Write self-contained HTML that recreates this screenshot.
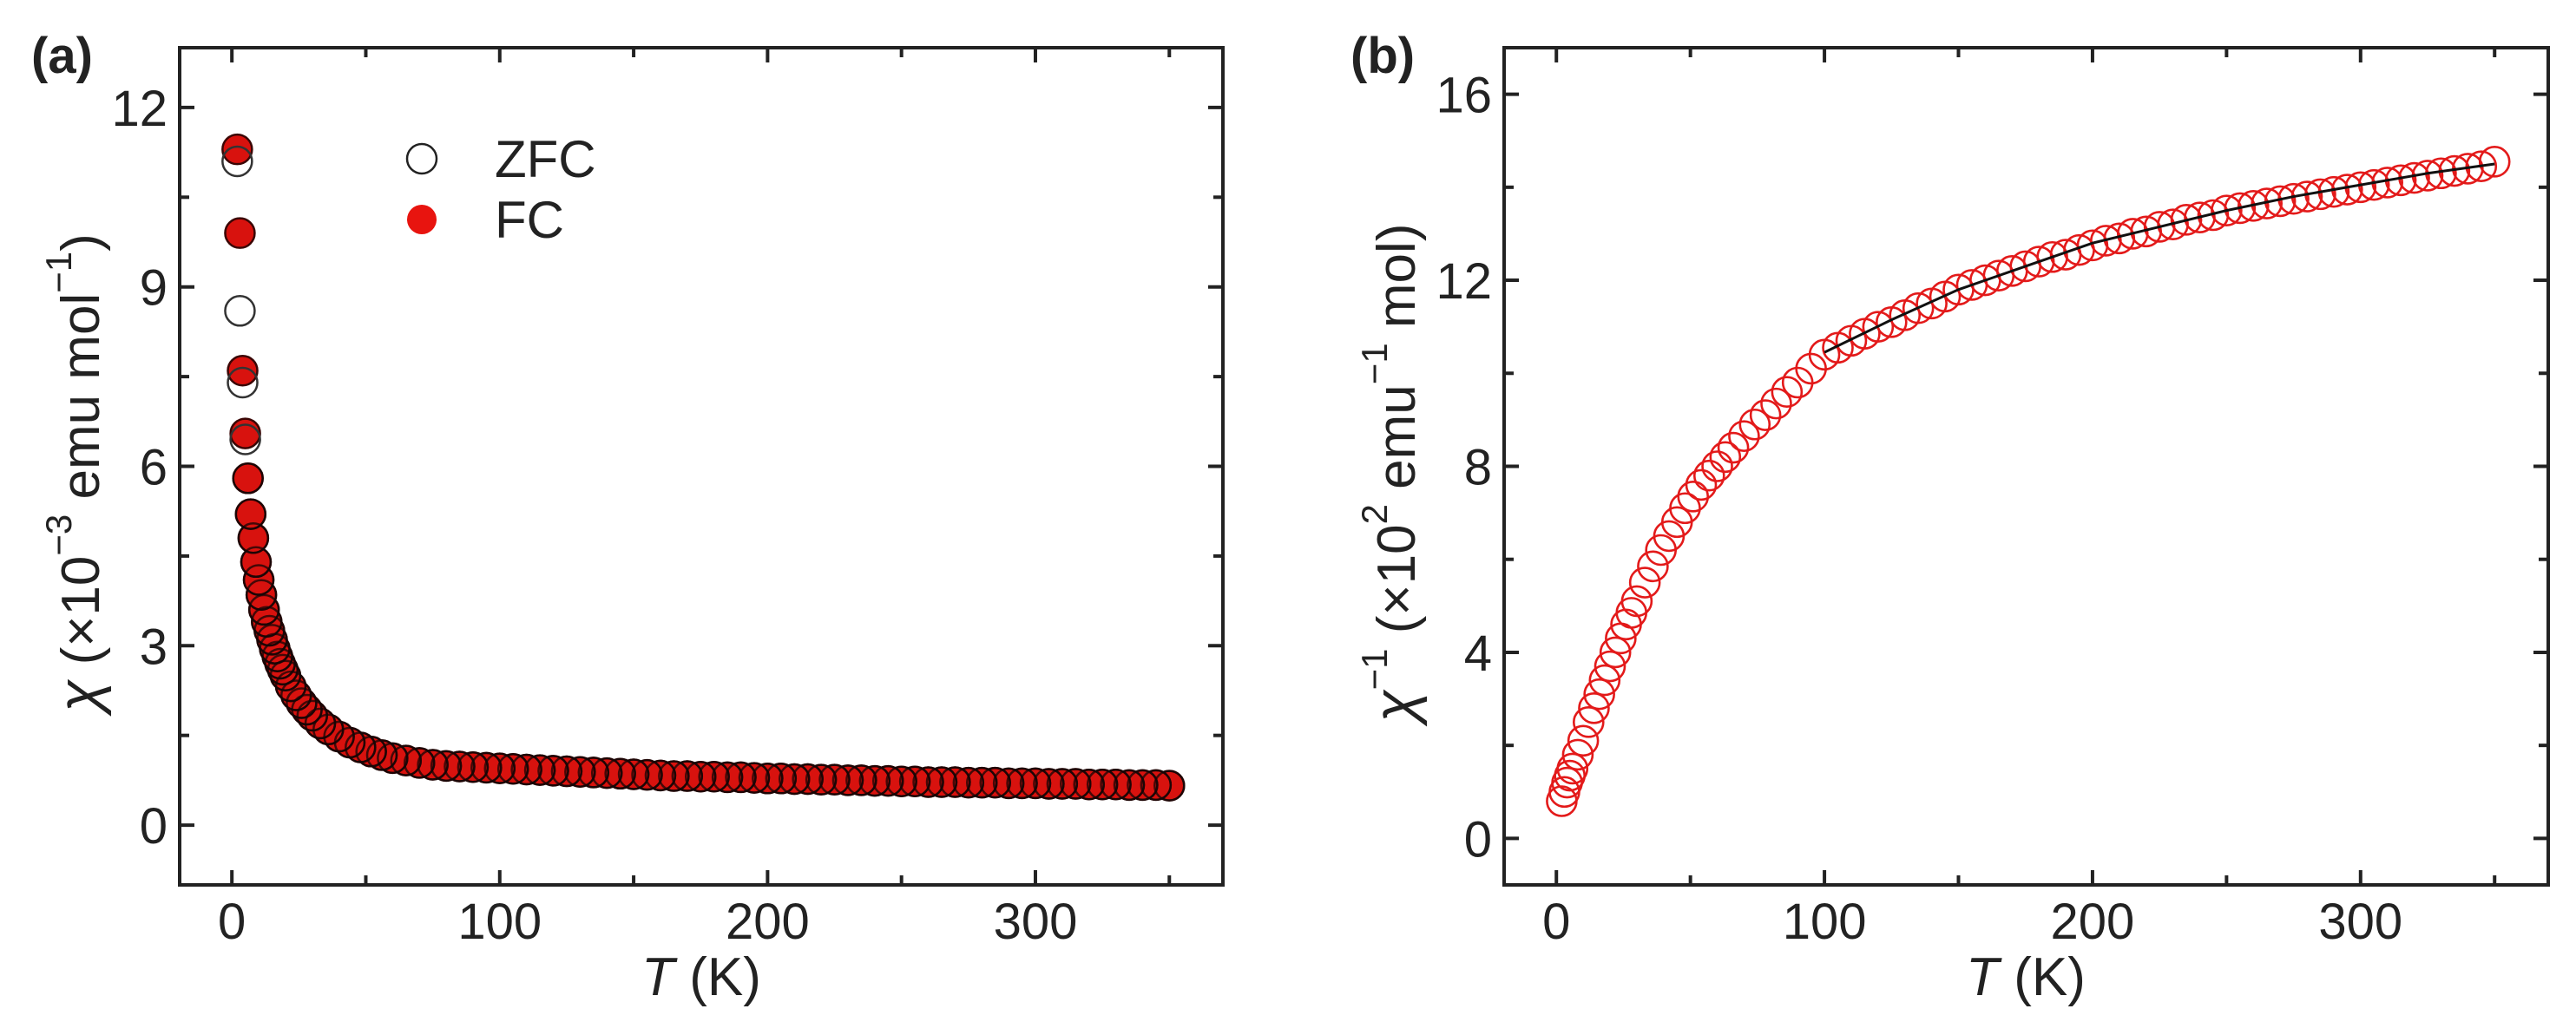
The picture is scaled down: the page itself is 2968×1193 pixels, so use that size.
<!DOCTYPE html>
<html><head><meta charset="utf-8"><style>
body{margin:0;background:#fff}
svg text{font-family:"Liberation Sans",sans-serif;fill:#222}
</style></head><body>
<svg id="fig" width="2968" height="1188" viewBox="0 0 2968 1188" xmlns="http://www.w3.org/2000/svg">
<g id="pa"></g>
<g id="pb"></g>
</svg>
<script>
const Ta=[2,3,4,5,6,7,8,9,10,11,12,13,14,15,16,17,18,19,20,22,24,26,28,30,33,36,40,44,48,52,56,60,65,70,75,80,85,90,95,100,105,110,115,120,125,130,135,140,145,150,155,160,165,170,175,180,185,190,195,200,205,210,215,220,225,230,235,240,245,250,255,260,265,270,275,280,285,290,295,300,305,310,315,320,325,330,335,340,345,350];
const FCa=[11.3,9.9,7.6,6.55,5.8,5.2,4.8,4.4,4.1,3.85,3.6,3.4,3.25,3.1,2.95,2.82,2.7,2.6,2.5,2.32,2.17,2.04,1.93,1.83,1.7,1.6,1.48,1.38,1.3,1.23,1.17,1.12,1.08,1.04,1.01,0.99,0.98,0.97,0.96,0.95,0.94,0.93,0.92,0.91,0.9,0.89,0.88,0.87,0.86,0.85,0.84,0.83,0.82,0.82,0.81,0.81,0.80,0.80,0.79,0.78,0.78,0.77,0.77,0.76,0.76,0.75,0.75,0.74,0.74,0.73,0.73,0.72,0.72,0.72,0.71,0.71,0.71,0.70,0.70,0.70,0.69,0.69,0.69,0.68,0.68,0.68,0.67,0.67,0.67,0.66];
const ZFCa=[11.1,8.6,7.4,6.45,5.8,5.2,4.8,4.4,4.1,3.85,3.6,3.4,3.25,3.1,2.95,2.82,2.7,2.6,2.5,2.32,2.17,2.04,1.93,1.83,1.7,1.6,1.48,1.38,1.3,1.23,1.17,1.12,1.08,1.04,1.01,0.99,0.98,0.97,0.96,0.95,0.94,0.93,0.92,0.91,0.9,0.89,0.88,0.87,0.86,0.85,0.84,0.83,0.82,0.82,0.81,0.81,0.80,0.80,0.79,0.78,0.78,0.77,0.77,0.76,0.76,0.75,0.75,0.74,0.74,0.73,0.73,0.72,0.72,0.72,0.71,0.71,0.71,0.70,0.70,0.70,0.69,0.69,0.69,0.68,0.68,0.68,0.67,0.67,0.67,0.66];
const Tb=[2,3,4,5,6,8,10,12,14,16,18,20,22,24,26,28,30,33,36,39,42,45,48,51,54,57,60,63,66,70,74,78,82,86,90,95,100,105,110,115,120,125,130,135,140,145,150,155,160,165,170,175,180,185,190,195,200,205,210,215,220,225,230,235,240,245,250,255,260,265,270,275,280,285,290,295,300,305,310,315,320,325,330,335,340,345,350];
const INVb=[0.8,1.0,1.2,1.35,1.5,1.8,2.1,2.5,2.8,3.1,3.4,3.7,4.0,4.3,4.6,4.85,5.1,5.5,5.85,6.2,6.5,6.8,7.1,7.35,7.6,7.8,8.0,8.2,8.4,8.65,8.9,9.1,9.35,9.6,9.8,10.1,10.4,10.55,10.7,10.85,11.0,11.1,11.25,11.4,11.5,11.65,11.8,11.9,12.0,12.1,12.2,12.3,12.4,12.5,12.55,12.65,12.75,12.85,12.9,13.0,13.05,13.15,13.2,13.3,13.35,13.4,13.5,13.55,13.6,13.65,13.7,13.75,13.8,13.85,13.9,13.95,14.0,14.05,14.1,14.15,14.2,14.25,14.3,14.35,14.4,14.45,14.55];
const fitT=[100,125,150,175,200,225,250,275,300,325,350];
const fitY=[10.45,11.15,11.8,12.3,12.8,13.15,13.5,13.8,14.05,14.3,14.5];
const xTicks=["0","100","200","300"];
const yTicksA=["0","3","6","9","12"];
const yTicksB=["0","4","8","12","16"];

const NS="http://www.w3.org/2000/svg";
function mk(parent,tag,attrs){const e=document.createElementNS(NS,tag);for(const k in attrs)e.setAttribute(k,attrs[k]);parent.appendChild(e);return e;}

function panel(g,L,R,xmin,xmax,ymin,ymax,yTicks,yStep,yMinor){
  const T=55,B=1020;
  const sx=v=>L+(v-xmin)/(xmax-xmin)*(R-L);
  const sy=v=>B-(v-ymin)/(ymax-ymin)*(B-T);
  const ax=mk(g,'g',{});
  
  
  for(let v=0;v<=350;v+=50){const x=sx(v);const len=v%100==0?17:11;
    mk(ax,'line',{x1:x,x2:x,y1:B,y2:B-len,stroke:'#222','stroke-width':4});
    mk(ax,'line',{x1:x,x2:x,y1:T,y2:T+len,stroke:'#222','stroke-width':4});}
  for(let v=0;v<=ymax;v+=yMinor){const y=sy(v);const maj=Math.abs(v/yStep-Math.round(v/yStep))<1e-6;const len=maj?17:11;
    mk(ax,'line',{x1:L,x2:L+len,y1:y,y2:y,stroke:'#222','stroke-width':4});
    mk(ax,'line',{x1:R,x2:R-len,y1:y,y2:y,stroke:'#222','stroke-width':4});}
  xTicks.forEach((t,i)=>{const e=mk(ax,'text',{x:sx(i*100),y:1082,'text-anchor':'middle','font-size':58});e.textContent=t;
    
    });
  yTicks.forEach((t,i)=>{const e=mk(ax,'text',{x:L-14,y:sy(i*yStep)+21,'text-anchor':'end','font-size':58});e.textContent=t;
    
    });
  return {sx,sy,T,B,ax};
}

// Panel a
const ga=document.getElementById('pa');
const A=panel(ga,207,1409,-19.5,370,-1,13,yTicksA,3,1.5);
const sa=mk(ga,'g',{});


for(let i=Ta.length-1;i>=0;i--){
  const c=mk(sa,'circle',{cx:A.sx(Ta[i]),cy:A.sy(FCa[i]),r:17,fill:'#d8120e',stroke:'#3a0605','stroke-width':2.5});
  
  
}
for(let i=Ta.length-1;i>=0;i--){
  const c=mk(sa,'circle',{cx:A.sx(Ta[i]),cy:A.sy(ZFCa[i]),r:17,fill:'none',stroke:i<4?'#333':'rgba(20,5,5,0.75)','stroke-width':2.5});
  
  
}
mk(ga,'rect',{x:207,y:55,width:1202,height:965,fill:'none',stroke:'#222','stroke-width':4});

// Panel b
const gb=document.getElementById('pb');
const Bp=panel(gb,1733,2936,-19.5,370,-1,17,yTicksB,4,2);
const sb=mk(gb,'g',{});


for(let i=0;i<Tb.length;i++){
  const c=mk(sb,'circle',{cx:Bp.sx(Tb[i]),cy:Bp.sy(INVb[i]),r:17,fill:'none',stroke:'#e31a1a','stroke-width':2.6});
  
  
}
const fit=mk(gb,'polyline',{points:fitT.map((t,i)=>Bp.sx(t)+','+Bp.sy(fitY[i])).join(' '),fill:'none',stroke:'#111','stroke-width':3});


mk(gb,'rect',{x:1733,y:55,width:1203,height:965,fill:'none',stroke:'#222','stroke-width':4});
</script>
<svg width="2968" height="1188" style="position:absolute;left:0;top:0" xmlns="http://www.w3.org/2000/svg">
<text x="36" y="84" font-size="58" font-weight="bold" style="font-family:'Liberation Sans',sans-serif">(a)</text>
<text x="1556" y="84" font-size="58" font-weight="bold" style="font-family:'Liberation Sans',sans-serif">(b)</text>
<g>
<circle cx="486" cy="183" r="17" fill="none" stroke="#222" stroke-width="2.5"/>
<text x="570" y="204" font-size="60" style="font-family:'Liberation Sans',sans-serif;fill:#222">ZFC</text>
<circle cx="486" cy="253" r="17" fill="#e8140f"/>
<text x="570" y="274" font-size="60" style="font-family:'Liberation Sans',sans-serif;fill:#222">FC</text>
</g>
<text x="808" y="1147" font-size="62" text-anchor="middle" style="font-family:'Liberation Sans',sans-serif;fill:#222"><tspan font-style="italic">T</tspan> (K)</text>
<text x="2334" y="1147" font-size="62" text-anchor="middle" style="font-family:'Liberation Sans',sans-serif;fill:#222"><tspan font-style="italic">T</tspan> (K)</text>
<text transform="translate(114,545) rotate(-90)" font-size="62" text-anchor="middle" style="font-family:'Liberation Sans',sans-serif;fill:#222"><tspan font-style="italic" font-size="68">χ</tspan> (×10<tspan dy="-32" font-size="42">−3</tspan><tspan dy="32"> emu mol</tspan><tspan dy="-32" font-size="42">−1</tspan><tspan dy="32">)</tspan></text>
<text transform="translate(1630,545) rotate(-90)" font-size="62" text-anchor="middle" style="font-family:'Liberation Sans',sans-serif;fill:#222"><tspan font-style="italic" font-size="68">χ</tspan><tspan dy="-32" font-size="42">−1</tspan><tspan dy="32"> (×10</tspan><tspan dy="-32" font-size="42">2</tspan><tspan dy="32"> emu</tspan><tspan dy="-32" font-size="42">−1</tspan><tspan dy="32"> mol)</tspan></text>
</svg>
</body></html>
